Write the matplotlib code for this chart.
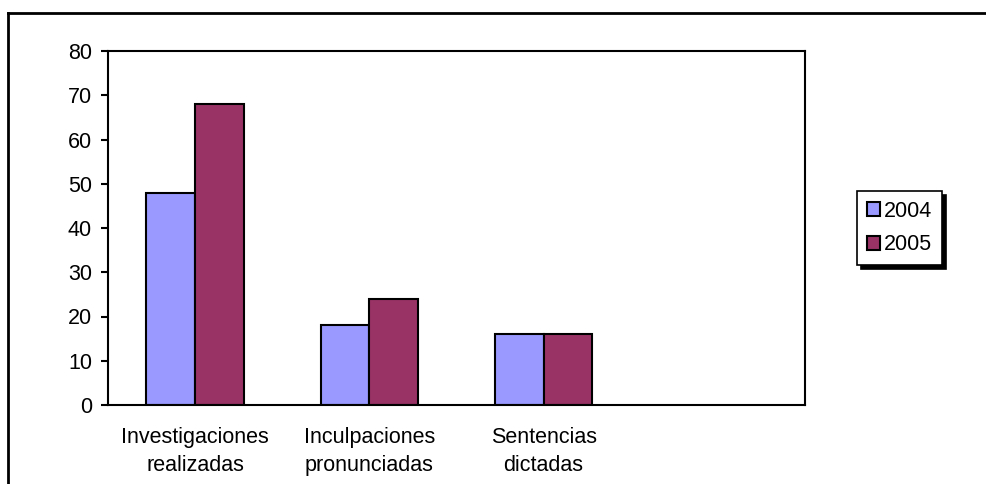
import matplotlib.pyplot as plt
import numpy as np
from matplotlib.lines import Line2D

plt.rcParams['font.family'] = ['Liberation Sans', 'DejaVu Sans']

categorias = ["Investigaciones\nrealizadas", "Inculpaciones\npronunciadas", "Sentencias\ndictadas", ""]
anios = ["2004", "2005"]
v2004 = [48, 18, 16, 0]
v2005 = [68, 24, 16, 0]
col = ["#9999FF", "#993366"]

fig = plt.figure(figsize=(9.87, 4.84), dpi=100)
ax = fig.add_axes([108/987, 1-405/484, 697/987, 354/484])

x = np.arange(len(categorias))
w = 0.28
n = 3  # the last slot stays empty
ax.bar(x[:n]-w/2, v2004[:n], w, color=col[0], edgecolor="black", linewidth=1.5, label=anios[0])
ax.bar(x[:n]+w/2, v2005[:n], w, color=col[1], edgecolor="black", linewidth=1.5, label=anios[1])

ax.set_xlim(-0.5, len(categorias)-0.5)
ax.set_ylim(0, 80)
ax.set_yticks(range(0, 81, 10))
ax.set_xticks(x)
ax.set_xticklabels(categorias, fontsize=15.5, linespacing=1.4)
ax.tick_params(axis="x", length=0, pad=16)
ax.tick_params(axis="y", length=5, width=1.5, direction="out", labelsize=15.5, pad=6.5)
for s in ax.spines.values():
    s.set_linewidth(1.5)
    s.set_color("black")

leg = ax.legend(loc="center left", bbox_to_anchor=(857/987, 1-228/484), bbox_transform=fig.transFigure,
                fancybox=False, edgecolor="black", framealpha=1, fontsize=15.5,
                handlelength=0.6, handleheight=0.6, handletextpad=0.2, borderpad=0.45,
                labelspacing=0.6, borderaxespad=0,
                shadow={"color": "black", "alpha": 1, "ox": 3, "oy": -3})
leg.get_frame().set_linewidth(1.2)

# outer chart frame (top and left edges)
fig.add_artist(Line2D([8/987, 1], [1-13/484, 1-13/484], transform=fig.transFigure, color="black", lw=2))
fig.add_artist(Line2D([8/987, 8/987], [0, 1-13/484], transform=fig.transFigure, color="black", lw=2))

fig.savefig("out.png", dpi=100)
